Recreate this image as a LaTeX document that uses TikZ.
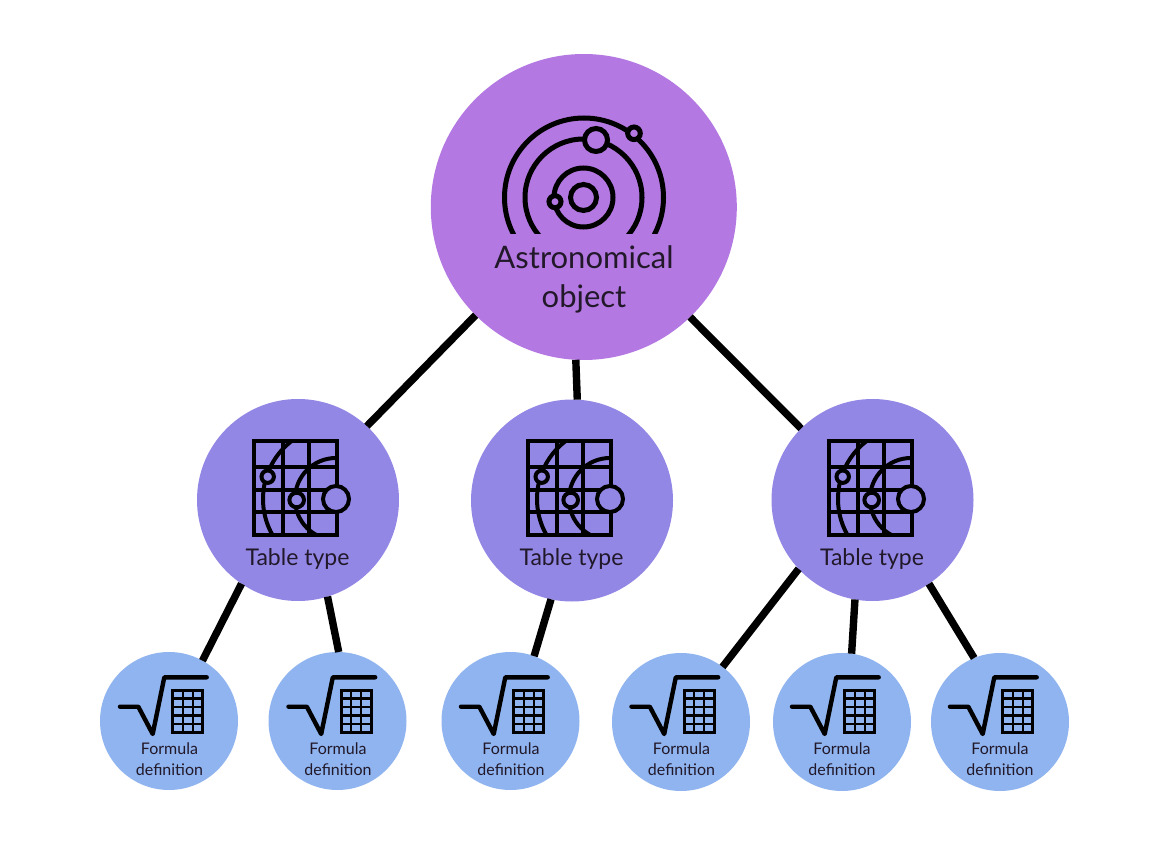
\documentclass[tikz,border=0pt]{standalone}
\usepackage{fontspec}
\setmainfont{Lato}
\definecolor{topc}{HTML}{B478E2}
\definecolor{midc}{HTML}{9387E6}
\definecolor{lowc}{HTML}{8FB4EF}
\definecolor{inkc}{HTML}{211829}
\tikzset{
  x=1pt,y=-1pt,
  disc/.style={circle,inner sep=0pt,outer sep=0pt},
  topdisc/.style={disc,fill=topc,minimum size=306pt},
  middisc/.style={disc,fill=midc,minimum size=202pt},
  lowdisc/.style={disc,fill=lowc,minimum size=138pt},
  link/.style={draw=black,line width=7.4pt},
  orbiticon/.style={draw=black,line width=5pt},
  icon/.style={draw=black,line width=4pt},
  rooticon/.style={draw=black,line width=4.4pt},
  bigtext/.style={text=inkc,inner sep=0pt,font=\fontsize{31}{31}\selectfont},
  midtext/.style={text=inkc,inner sep=0pt,font=\fontsize{23}{23}\selectfont},
  lowtext/.style={text=inkc,inner sep=0pt,align=center,font=\fontsize{16}{21}\selectfont},
}
% table icon drawn at its position for the first disc, shifted by #1
\newcommand{\tableicon}[1]{%
  \begin{scope}[xshift=#1]
    \draw[icon] (254,441) rectangle (337.3,535);
    \draw[icon] (282.7,441) -- (282.7,535) (309.3,441) -- (309.3,535)
      (254,466.7) -- (337.3,466.7) (254,490) -- (337.3,490) (254,512.3) -- (337.3,512.3);
    \begin{scope}
      \clip (254,441) rectangle (337.3,535);
      \draw[icon] (336,499) circle[radius=41];
      \draw[icon] (336,499) circle[radius=73];
    \end{scope}
    \draw[icon,fill=midc] (336,499) circle[radius=13];
    \draw[icon,fill=midc] (296.7,500) circle[radius=7.3];
    \draw[icon,fill=midc] (267.7,476.7) circle[radius=6.2];
  \end{scope}}
% formula icon drawn at its position for the first disc, shifted by #1
\newcommand{\formulaicon}[1]{%
  \begin{scope}[xshift=#1]
    \draw[rooticon,line cap=round,line join=round] (120,706.7) -- (138.3,706.7) -- (152.7,734) -- (164.3,677.3) -- (206.7,677.3);
    \draw[draw=black,line width=3pt] (172.7,690) rectangle (202.7,732.7);
    \draw[draw=black,line width=2.4pt] (182.7,690) -- (182.7,732.7) (192.7,690) -- (192.7,732.7)
      (172.7,698.5) -- (202.7,698.5) (172.7,707) -- (202.7,707) (172.7,715.6) -- (202.7,715.6) (172.7,724.1) -- (202.7,724.1);
  \end{scope}}
\begin{document}
\begin{tikzpicture}
\useasboundingbox (0,0) rectangle (1168,850);
\fill[white] (0,0) rectangle (1168,850);
\node[topdisc] (t) at (583.8,207) {};
\node[middisc] (m1) at (298,500) {};
\node[middisc] (m2) at (572,500.5) {};
\node[middisc] (m3) at (872.5,500) {};
\node[lowdisc] (b1) at (169,721) {};
\node[lowdisc] (b2) at (337.5,721) {};
\node[lowdisc] (b3) at (510.5,721) {};
\node[lowdisc] (b4) at (681,722) {};
\node[lowdisc] (b5) at (842,722) {};
\node[lowdisc] (b6) at (1000,722) {};
\draw[link] (t.225.3) -- (m1.47.5);
\draw[link] (t.267.6) -- (m2.87.7);
\draw[link] (t.-46) -- (m3.135.3);
\draw[link] (m1.236.8) -- (b1.61);
\draw[link] (m1.-73) -- (b2.89);
\draw[link] (m2.258.5) -- (b3.70);
\draw[link] (m3.223.8) -- (b4.53.3);
\draw[link] (m3.260.4) -- (b5.82.6);
\draw[link] (m3.-56.2) -- (b6.112.2);
% orbit icon
\draw[orbiticon] (583.5,197.5) circle[radius=13];
\draw[orbiticon] (583.5,197.5) circle[radius=29.5];
\begin{scope}
  \clip (480,100) rectangle (690,233.5);
  \draw[orbiticon] (583.5,197.5) circle[radius=58.5];
  \draw[orbiticon] (584,197.5) circle[radius=79.5];
\end{scope}
\draw[orbiticon,fill=topc] (596,140) circle[radius=11.5];
\draw[orbiticon,fill=topc] (634,133.3) circle[radius=6.3];
\draw[orbiticon,fill=topc] (555,201.7) circle[radius=6];
\node[bigtext] (tt1) at (584,257) {Astronomical};
\node[bigtext] (tt2) at (584,299) {object};
\tableicon{0pt}\tableicon{274pt}\tableicon{575pt}
\node[midtext] (mt1) at (297.5,559) {Table type};
\node[midtext] (mt2) at (571.5,559) {Table type};
\node[midtext] (mt3) at (872,559) {Table type};
\formulaicon{0pt}\formulaicon{168.5pt}\formulaicon{341pt}\formulaicon{511.5pt}\formulaicon{672pt}\formulaicon{830pt}
\node[lowtext] (bt1) at (169.5,759) {Formula\\definition};
\node[lowtext] (bt2) at (338,759) {Formula\\definition};
\node[lowtext] (bt3) at (511,759) {Formula\\definition};
\node[lowtext] (bt4) at (681.5,759) {Formula\\definition};
\node[lowtext] (bt5) at (842,759) {Formula\\definition};
\node[lowtext] (bt6) at (1000,759) {Formula\\definition};
\end{tikzpicture}
\end{document}
